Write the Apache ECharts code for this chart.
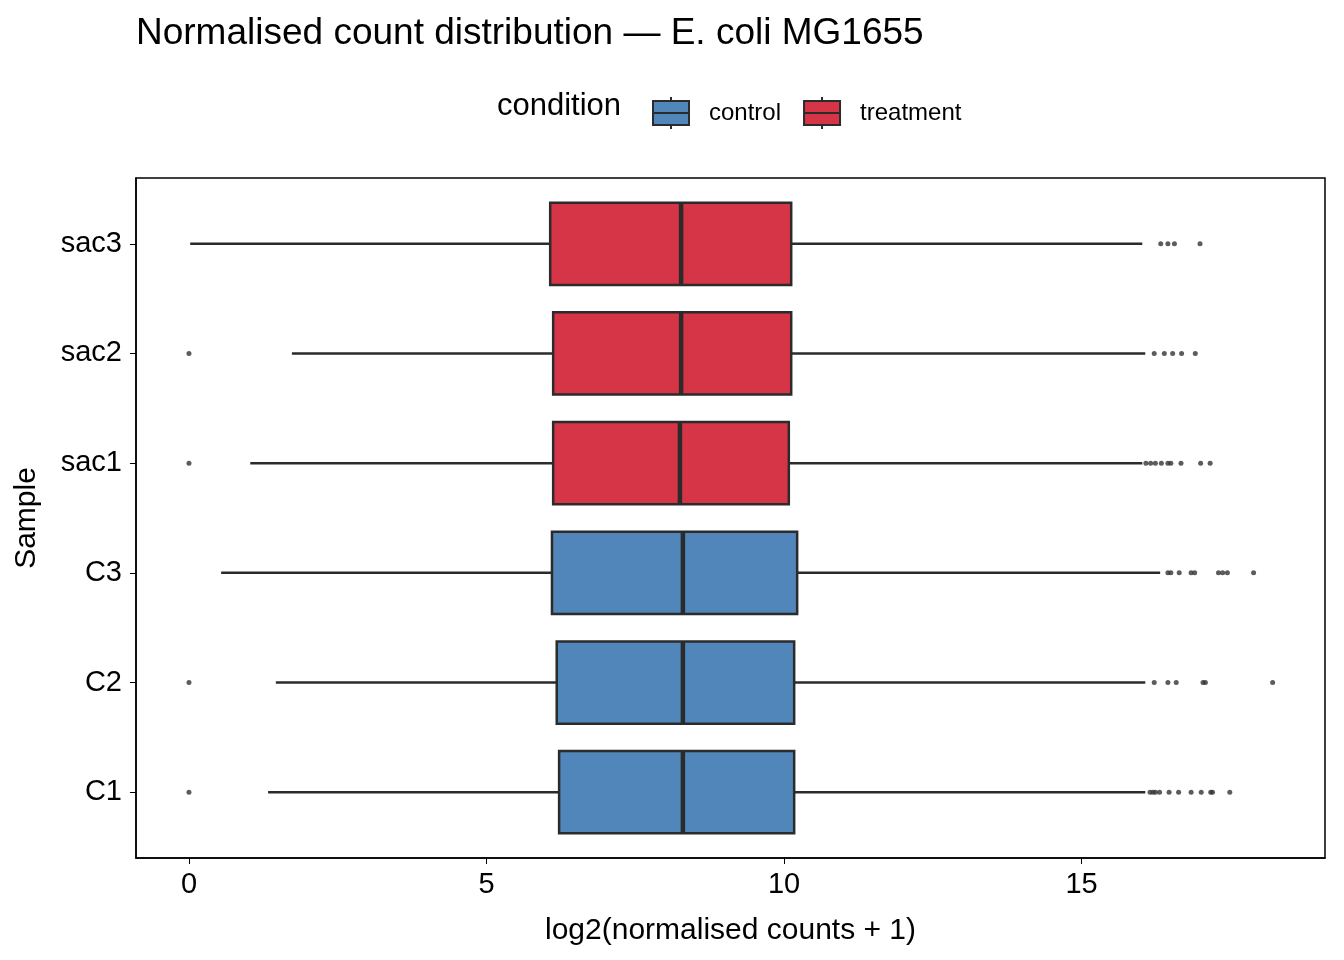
<!DOCTYPE html>
<html>
<head>
<meta charset="utf-8">
<script src="https://cdn.jsdelivr.net/npm/echarts@6/dist/echarts.min.js"></script>
<style>html,body{margin:0;padding:0;background:#fff}#main{width:1344px;height:960px}</style>
</head>
<body>
<div id="main"></div>
<script>
// samples from bottom to top
const samples = ['C1', 'C2', 'C3', 'sac1', 'sac2', 'sac3']
const conditions = ['control', 'control', 'control', 'treatment', 'treatment', 'treatment']
// [lower whisker, Q1, median, Q3, upper whisker]
const stats = [
  [1.33, 6.22, 8.30, 10.17, 16.07],
  [1.46, 6.18, 8.30, 10.17, 16.07],
  [0.54, 6.10, 8.30, 10.22, 16.32],
  [1.03, 6.12, 8.25, 10.08, 16.02],
  [1.73, 6.12, 8.27, 10.12, 16.07],
  [0.02, 6.07, 8.27, 10.12, 16.02]
]
const outliers = [
  [0, 16.15, 16.2, 16.24, 16.31, 16.47, 16.63, 16.84, 17.01, 17.17, 17.2, 17.49],
  [0, 16.22, 16.45, 16.59, 17.04, 17.08, 18.21],
  [16.45, 16.5, 16.64, 16.84, 16.9, 17.3, 17.37, 17.45, 17.89],
  [0, 16.08, 16.16, 16.24, 16.34, 16.45, 16.5, 16.67, 17.0, 17.16],
  [0, 16.22, 16.39, 16.53, 16.68, 16.91],
  [16.33, 16.45, 16.56, 16.99]
]
const colors = { control: '#5186BA', treatment: '#D63447' }
const xTicks = [0, 5, 10, 15]
const yTicks = [0, 1, 2, 3, 4, 5]

const font = 'Liberation Sans, Arial, sans-serif'
const ink = '#2b2b2b'

function boxData(cond) {
  const out = []
  stats.forEach((s, i) => {
    if (conditions[i] === cond) out.push([i].concat(s))
  })
  return out
}

function renderBox(params, api) {
  const cat = api.value(0)
  const y = api.coord([0, cat])[1]
  const h = api.size([0, 1])[1] * 0.375
  const px = k => api.coord([api.value(k), cat])[0]
  const [lo, q1, md, q3, hi] = [px(1), px(2), px(3), px(4), px(5)]
  const line = { stroke: ink, lineWidth: 2.5 }
  return {
    type: 'group',
    children: [
      { type: 'line', shape: { x1: lo, y1: y, x2: q1, y2: y }, style: line },
      { type: 'line', shape: { x1: q3, y1: y, x2: hi, y2: y }, style: line },
      { type: 'rect', shape: { x: q1, y: y - h, width: q3 - q1, height: 2 * h },
        style: { fill: api.visual('color'), stroke: ink, lineWidth: 2.5 } },
      { type: 'line', shape: { x1: md, y1: y - h, x2: md, y2: y + h }, style: { stroke: ink, lineWidth: 4.5 } }
    ]
  }
}

const outlierData = []
outliers.forEach((arr, i) => arr.forEach(v => outlierData.push([v, i])))

const chart = echarts.init(document.getElementById('main'))
chart.setOption({
  animation: false,
  textStyle: { fontFamily: font },
  title: {
    text: 'Normalised count distribution — E. coli MG1655',
    left: 131, top: 10,
    textStyle: { fontFamily: font, fontSize: 37, fontWeight: 'normal', color: '#000' }
  },
  graphic: [{
    type: 'text', left: 497, top: 91,
    style: { text: 'condition', font: '31px ' + font, fill: '#000' }
  }, {
    type: 'rect', shape: { x: 136, y: 178, width: 1189, height: 680 },
    style: { fill: 'none', stroke: '#000', lineWidth: 1.5 }, silent: true
  }],
  legend: {
    left: 647, top: 91, itemGap: 22, itemWidth: 36, itemHeight: 32,
    icon: 'path://M0,4 L36,4 L36,28 L0,28 Z M0,16 L36,16 M18,0 L18,4 M18,28 L18,32',
    data: ['control', 'treatment'],
    textStyle: { fontFamily: font, fontSize: 24, color: '#000', padding: [0, 0, 0, 15] },
    itemStyle: { borderColor: ink, borderWidth: 2 }
  },
  grid: { left: 136, right: 19, top: 178, bottom: 102, containLabel: false },
  xAxis: {
    type: 'value', min: -0.89, max: 19.09,
    name: 'log2(normalised counts + 1)', nameLocation: 'middle', nameGap: 58,
    nameTextStyle: { fontFamily: font, fontSize: 30, color: '#000' },
    axisLine: { show: true, onZero: false, lineStyle: { color: '#000', width: 1.5 } },
    axisTick: { show: true, length: 6, customValues: xTicks, lineStyle: { color: '#000' } },
    splitLine: { show: false },
    axisLabel: {
      fontFamily: font, fontSize: 29, color: '#000', margin: 12,
      customValues: xTicks
    }
  },
  yAxis: {
    type: 'value', min: -0.6, max: 5.6,
    name: 'Sample', nameLocation: 'middle', nameGap: 94, nameRotate: 90,
    nameTextStyle: { fontFamily: font, fontSize: 30, color: '#000' },
    axisLine: { show: true, onZero: false, lineStyle: { color: '#000', width: 1.5 } },
    axisTick: { show: true, length: 6, customValues: yTicks, lineStyle: { color: '#000' } },
    splitLine: { show: false },
    axisLabel: {
      fontFamily: font, fontSize: 29, color: '#000', margin: 14,
      customValues: yTicks,
      formatter: v => samples[Math.round(v)]
    }
  },
  series: [
    { name: 'control', type: 'custom', renderItem: renderBox, itemStyle: { color: colors.control },
      encode: { x: [1, 2, 3, 4, 5], y: 0 }, data: boxData('control'), z: 2 },
    { name: 'treatment', type: 'custom', renderItem: renderBox, itemStyle: { color: colors.treatment },
      encode: { x: [1, 2, 3, 4, 5], y: 0 }, data: boxData('treatment'), z: 2 },
    { name: 'outliers', type: 'scatter', symbolSize: 5, data: outlierData,
      itemStyle: { color: '#333' }, z: 3 }
  ]
})
</script>
</body>
</html>
